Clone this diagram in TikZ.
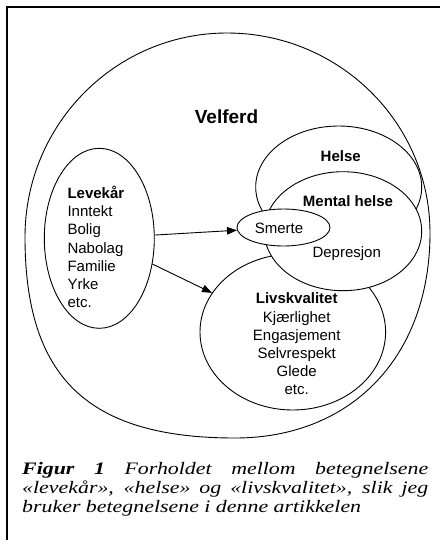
\documentclass[tikz,border=0pt]{standalone}
\usepackage{fontspec}
\setmainfont{Liberation Sans}
\newfontfamily\capfont[FakeStretch=1.25]{Liberation Serif}
\usetikzlibrary{arrows.meta,shapes.geometric}

\begin{document}
\begin{tikzpicture}[
    x=1pt, y=-1pt,
    oval/.style={ellipse, draw, line width=0.9pt, fill=white, inner sep=0pt},
    lbl/.style={inner sep=0pt, font=\fontsize{15}{18.2}\selectfont},
    hd/.style={lbl, font=\fontsize{15}{18.2}\selectfont\bfseries},
    arr/.style={-{Triangle[length=10pt, width=7.5pt]}, line width=0.9pt},
    figtxt/.style={inner sep=0pt, text width=406pt, align=justify,
                font=\capfont\itshape\fontsize{17.5}{19}\selectfont},
]
\useasboundingbox (0,0) rectangle (440,547);

%% Ramme
\draw[line width=1.3pt] (440,7) -- (7,7) -- (7,540);

%% Ovaler (rekkefolgen styrer hva som dekker hva)
\node[oval, minimum width=110pt, minimum height=180pt]   (lev) at (99.3,238.3) {};
\node[oval, minimum width=185.6pt, minimum height=156pt] (liv) at (292.8,332) {};
\node[oval, minimum width=166pt, minimum height=122pt]   (hel) at (338.7,187) {};
\node[oval, minimum width=157.4pt, minimum height=119pt] (men) at (343,231.2) {};
\node[oval, minimum width=93pt, minimum height=37pt]     (sme) at (283.5,227.5) {};

%% Velferd
\draw[line width=0.9pt] (25,237) .. controls (25,124.4) and (115.5,33) .. (227,33)
  .. controls (339,33) and (430,122.6) .. (430,233)
  .. controls (430,356) and (352,438) .. (235,438)
  .. controls (88,438) and (25,377.7) .. cycle;

%% Tekster
\node[hd, font=\fontsize{19}{22}\selectfont\bfseries] (velferd) at (226.5,116.7) {Velferd};
\node[hd]  (helse)  at (340.7,156)   {Helse};
\node[hd]  (mental) at (348,201)     {Mental helse};
\node[lbl] (smerte) at (279,228.3)   {Smerte};
\node[lbl] (depr)   at (346.7,253.3) {Depresjon};
\node[lbl, align=left, anchor=west] (levtxt) at (67.3,247)
  {\textbf{Levekår}\\Inntekt\\Bolig\\Nabolag\\Familie\\Yrke\\etc.};
\node[lbl, align=center] (livtxt) at (296.7,344)
  {\textbf{Livskvalitet}\\Kjærlighet\\Engasjement\\Selvrespekt\\Glede\\etc.};

%% Piler
\draw[arr] (lev) -- (sme);
\draw[arr] (lev) -- (liv);

%% Figurtekst
\node[figtxt, anchor=north west] (caption) at (22,462)
  {\textbf{Figur~1} Forholdet mellom betegnelsene\linebreak
   «levekår», «helse» og «livskvalitet», slik jeg\linebreak
   bruker betegnelsene i denne artikkelen};

\end{tikzpicture}
\end{document}
